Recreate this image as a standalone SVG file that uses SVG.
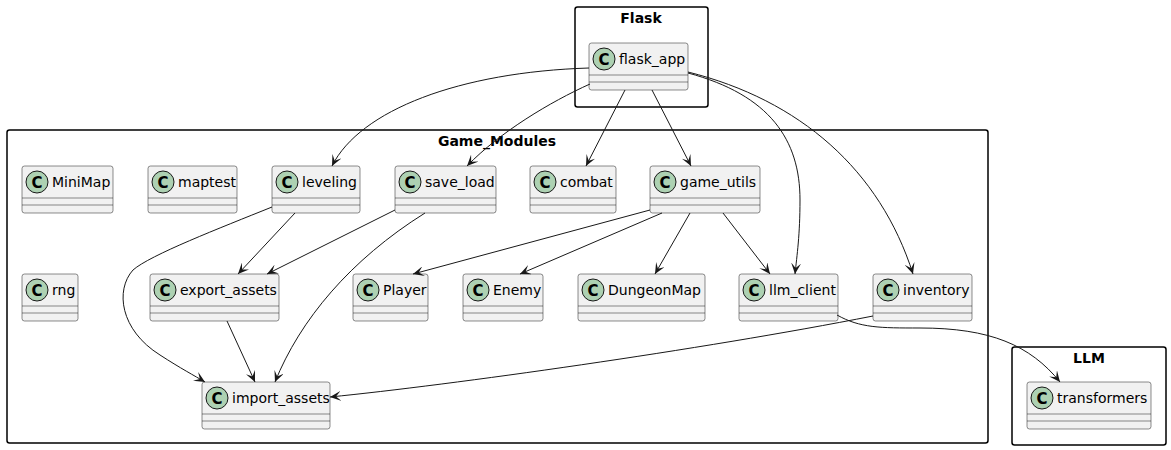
<svg xmlns="http://www.w3.org/2000/svg" width="1171" height="450" viewBox="0 0 1171 450">
<defs>
<style>
.pkg{fill:none;stroke:#000;stroke-width:1.5}
.pt{font-family:"DejaVu Sans",sans-serif;font-size:14px;font-weight:bold;fill:#000;text-anchor:middle}
.cb{fill:#F1F1F1;stroke:#181818;stroke-width:0.5}
.ln{stroke:#181818;stroke-width:0.5}
.ci{fill:#ADD1B2;stroke:#181818;stroke-width:1}
.cl{font-family:"DejaVu Sans",sans-serif;font-size:15px;font-weight:bold;fill:#000;text-anchor:middle}
.nm{font-family:"DejaVu Sans",sans-serif;font-size:14px;fill:#000}
.e{fill:none;stroke:#181818;stroke-width:1;marker-end:url(#ah)}
</style>
<marker id="ah" viewBox="0 0 12 10" refX="11" refY="5" markerWidth="12" markerHeight="10" markerUnits="userSpaceOnUse" orient="auto">
<path d="M11,5 L0,0 L5,5 L0,10 Z" fill="#181818"/>
</marker>
</defs>
<g id="pkg-flask"><rect class="pkg" x="575" y="7" width="133" height="100" rx="2.5"/><text class="pt" x="641" y="23">Flask</text></g>
<g id="pkg-game"><rect class="pkg" x="7" y="130" width="981" height="313" rx="2.5"/><text class="pt" x="497" y="146">Game_Modules</text></g>
<g id="pkg-llm"><rect class="pkg" x="1012" y="347" width="154" height="98" rx="2.5"/><text class="pt" x="1089" y="363">LLM</text></g>

<g id="flask_app"><rect class="cb" x="589" y="43" width="99" height="47" rx="2.5"/><line class="ln" x1="589" y1="75" x2="688" y2="75"/><line class="ln" x1="589" y1="82" x2="688" y2="82"/><circle class="ci" cx="604" cy="59" r="11"/><text class="cl" x="604" y="64.5">C</text><text class="nm" x="619" y="64">flask_app</text></g>

<g id="MiniMap"><rect class="cb" x="22" y="166" width="91" height="47" rx="2.5"/><line class="ln" x1="22" y1="198" x2="113" y2="198"/><line class="ln" x1="22" y1="205" x2="113" y2="205"/><circle class="ci" cx="37" cy="182" r="11"/><text class="cl" x="37" y="187.5">C</text><text class="nm" x="52" y="187">MiniMap</text></g>
<g id="maptest"><rect class="cb" x="148" y="166" width="89" height="47" rx="2.5"/><line class="ln" x1="148" y1="198" x2="237" y2="198"/><line class="ln" x1="148" y1="205" x2="237" y2="205"/><circle class="ci" cx="163" cy="182" r="11"/><text class="cl" x="163" y="187.5">C</text><text class="nm" x="178" y="187">maptest</text></g>
<g id="leveling"><rect class="cb" x="272" y="166" width="88" height="47" rx="2.5"/><line class="ln" x1="272" y1="198" x2="360" y2="198"/><line class="ln" x1="272" y1="205" x2="360" y2="205"/><circle class="ci" cx="287" cy="182" r="11"/><text class="cl" x="287" y="187.5">C</text><text class="nm" x="302" y="187">leveling</text></g>
<g id="save_load"><rect class="cb" x="395" y="166" width="101" height="47" rx="2.5"/><line class="ln" x1="395" y1="198" x2="496" y2="198"/><line class="ln" x1="395" y1="205" x2="496" y2="205"/><circle class="ci" cx="410" cy="182" r="11"/><text class="cl" x="410" y="187.5">C</text><text class="nm" x="425" y="187">save_load</text></g>
<g id="combat"><rect class="cb" x="530" y="166" width="86" height="47" rx="2.5"/><line class="ln" x1="530" y1="198" x2="616" y2="198"/><line class="ln" x1="530" y1="205" x2="616" y2="205"/><circle class="ci" cx="545" cy="182" r="11"/><text class="cl" x="545" y="187.5">C</text><text class="nm" x="560" y="187">combat</text></g>
<g id="game_utils"><rect class="cb" x="650" y="166" width="110" height="47" rx="2.5"/><line class="ln" x1="650" y1="198" x2="760" y2="198"/><line class="ln" x1="650" y1="205" x2="760" y2="205"/><circle class="ci" cx="665" cy="182" r="11"/><text class="cl" x="665" y="187.5">C</text><text class="nm" x="680" y="187">game_utils</text></g>

<g id="rng"><rect class="cb" x="22" y="274" width="56" height="47" rx="2.5"/><line class="ln" x1="22" y1="306" x2="78" y2="306"/><line class="ln" x1="22" y1="313" x2="78" y2="313"/><circle class="ci" cx="37" cy="290" r="11"/><text class="cl" x="37" y="295.5">C</text><text class="nm" x="52" y="295">rng</text></g>
<g id="export_assets"><rect class="cb" x="150" y="274" width="129" height="47" rx="2.5"/><line class="ln" x1="150" y1="306" x2="279" y2="306"/><line class="ln" x1="150" y1="313" x2="279" y2="313"/><circle class="ci" cx="165" cy="290" r="11"/><text class="cl" x="165" y="295.5">C</text><text class="nm" x="180" y="295">export_assets</text></g>
<g id="Player"><rect class="cb" x="353" y="274" width="75" height="47" rx="2.5"/><line class="ln" x1="353" y1="306" x2="428" y2="306"/><line class="ln" x1="353" y1="313" x2="428" y2="313"/><circle class="ci" cx="368" cy="290" r="11"/><text class="cl" x="368" y="295.5">C</text><text class="nm" x="383" y="295">Player</text></g>
<g id="Enemy"><rect class="cb" x="463" y="274" width="80" height="47" rx="2.5"/><line class="ln" x1="463" y1="306" x2="543" y2="306"/><line class="ln" x1="463" y1="313" x2="543" y2="313"/><circle class="ci" cx="478" cy="290" r="11"/><text class="cl" x="478" y="295.5">C</text><text class="nm" x="493" y="295">Enemy</text></g>
<g id="DungeonMap"><rect class="cb" x="578" y="274" width="127" height="47" rx="2.5"/><line class="ln" x1="578" y1="306" x2="705" y2="306"/><line class="ln" x1="578" y1="313" x2="705" y2="313"/><circle class="ci" cx="593" cy="290" r="11"/><text class="cl" x="593" y="295.5">C</text><text class="nm" x="608" y="295">DungeonMap</text></g>
<g id="llm_client"><rect class="cb" x="739" y="274" width="99" height="47" rx="2.5"/><line class="ln" x1="739" y1="306" x2="838" y2="306"/><line class="ln" x1="739" y1="313" x2="838" y2="313"/><circle class="ci" cx="754" cy="290" r="11"/><text class="cl" x="754" y="295.5">C</text><text class="nm" x="769" y="295">llm_client</text></g>
<g id="inventory"><rect class="cb" x="873" y="274" width="99" height="47" rx="2.5"/><line class="ln" x1="873" y1="306" x2="972" y2="306"/><line class="ln" x1="873" y1="313" x2="972" y2="313"/><circle class="ci" cx="888" cy="290" r="11"/><text class="cl" x="888" y="295.5">C</text><text class="nm" x="903" y="295">inventory</text></g>

<g id="import_assets"><rect class="cb" x="202" y="382" width="128" height="47" rx="2.5"/><line class="ln" x1="202" y1="414" x2="330" y2="414"/><line class="ln" x1="202" y1="421" x2="330" y2="421"/><circle class="ci" cx="217" cy="398" r="11"/><text class="cl" x="217" y="403.5">C</text><text class="nm" x="232" y="403">import_assets</text></g>
<g id="transformers"><rect class="cb" x="1027" y="382" width="124" height="47" rx="2.5"/><line class="ln" x1="1027" y1="414" x2="1151" y2="414"/><line class="ln" x1="1027" y1="421" x2="1151" y2="421"/><circle class="ci" cx="1042" cy="398" r="11"/><text class="cl" x="1042" y="403.5">C</text><text class="nm" x="1057" y="403">transformers</text></g>

<g id="connectors">
<path class="e" d="M589,68 C460,72 360,110 332,166"/>
<path class="e" d="M590,84 C550,102 500,132 467,166"/>
<path class="e" d="M625,90 L586,166"/>
<path class="e" d="M652,90 L691,166"/>
<path class="e" d="M688,73 C770,95 800,140 800,200 C800,235 797,255 795,274"/>
<path class="e" d="M688,72 C800,100 880,170 913,274"/>
<path class="e" d="M272,207 C220,228 150,255 133,270 C115,290 120,330 160,355 C180,368 195,376 205,382"/>
<path class="e" d="M295,213 L238,274"/>
<path class="e" d="M395,210 L267,274"/>
<path class="e" d="M425,213 C350,260 300,320 275,382"/>
<path class="e" d="M650,210 L413,274"/>
<path class="e" d="M662,213 L520,274"/>
<path class="e" d="M690,213 L655,274"/>
<path class="e" d="M723,213 L770,274"/>
<path class="e" d="M227,321 L255,382"/>
<path class="e" d="M873,316 C700,350 450,385 330,397"/>
<path class="e" d="M837,315 C860,328 880,328 920,328 C990,328 1030,345 1060,382"/>
</g>
</svg>
